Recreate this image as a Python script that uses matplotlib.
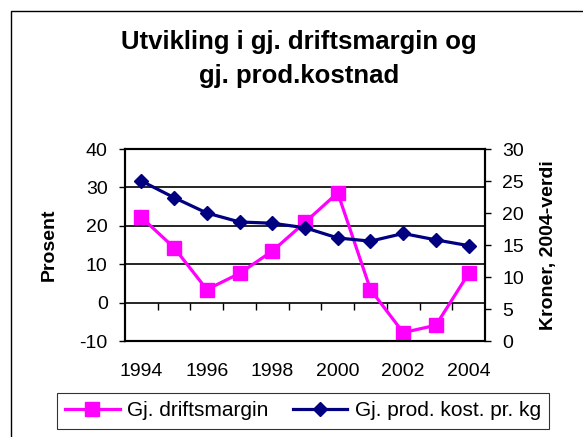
import matplotlib
matplotlib.use("Agg")
import matplotlib.pyplot as plt
from matplotlib.patches import Rectangle
import numpy as np

plt.rcParams['font.family'] = ['Liberation Sans', 'DejaVu Sans']
plt.rcParams['axes.unicode_minus'] = False

years = [1994, 1995, 1996, 1997, 1998, 1999, 2000, 2001, 2002, 2003, 2004]
driftsmargin = [22.2, 14.3, 3.4, 7.6, 13.4, 20.9, 28.6, 3.4, -7.8, -5.9, 7.6]
prodkost = [25.0, 22.4, 20.0, 18.6, 18.4, 17.7, 16.1, 15.6, 16.8, 15.8, 14.9]
left_ticks = [-10, 0, 10, 20, 30, 40]
right_ticks = [0, 5, 10, 15, 20, 25, 30]
year_labels = ['1994', '1996', '1998', '2000', '2002', '2004']

FS = 14
W, H = 583, 437
fig = plt.figure(figsize=(W / 100, H / 100), dpi=100)

# outer chart border
fig.patches.append(Rectangle((11 / W, -0.05), 1.2, (H - 11) / H + 0.05,
                             transform=fig.transFigure, fill=False,
                             edgecolor='black', linewidth=1.0))

L, R, T, B = 125, 485, 149, 341
ax = fig.add_axes([L / W, 1 - B / H, (R - L) / W, (B - T) / H])
x = np.arange(len(years))

ax.set_xlim(-0.5, len(years) - 0.5)
ax.set_ylim(-10, 40)
ax.set_yticks(left_ticks)
ax.tick_params(axis='y', direction='out', length=4.5, width=1, pad=8, labelsize=FS)
for v in [10, 20, 30]:
    ax.axhline(v, color='black', linewidth=1.2, zorder=1)
for s in ax.spines.values():
    s.set_linewidth(1.5)

# x tick labels at bottom
ax.set_xticks(x[::2])
ax.set_xticklabels(year_labels)
ax.tick_params(axis='x', length=0, pad=16, labelsize=FS)

# x axis line at y=0 with category-boundary ticks
sec = ax.secondary_xaxis(0.2)
sec.set_xticks(np.arange(0.5, len(years) - 1, 1.0))
sec.set_xticklabels([])
sec.tick_params(axis='x', direction='out', length=5, width=1)
sec.spines['bottom'].set_linewidth(1.2)

ax.set_ylabel('Prosent', fontsize=FS, fontweight='bold')
ax.yaxis.set_label_coords(-0.186, 0.5)

ax2 = ax.twinx()
ax2.set_ylim(0, 30)
ax2.set_yticks(right_ticks)
ax2.tick_params(axis='y', direction='out', length=4.5, width=1, pad=8, labelsize=FS)
ax2.set_ylabel('Kroner, 2004-verdi', fontsize=FS, fontweight='bold')
ax2.yaxis.set_label_coords(1.153, 0.5)
for s in ax2.spines.values():
    s.set_linewidth(1.5)

l1, = ax.plot(x, driftsmargin, color='#FF00FF', linewidth=2.3, marker='s',
              markersize=9.5, markerfacecolor='#FF00FF', markeredgecolor='#FF00FF',
              zorder=3, label='Gj. driftsmargin')
l2, = ax2.plot(x, prodkost, color='#000080', linewidth=2.3, marker='D',
               markersize=7.5, markerfacecolor='#000080', markeredgecolor='#000080',
               zorder=3, label='Gj. prod. kost. pr. kg')

fig.text(299 / W, 1 - 30 / H, 'Utvikling i gj. driftsmargin og\ngj. prod.kostnad',
         ha='center', va='top', fontsize=18.5, fontweight='bold', linespacing=1.5)

leg = fig.legend([l1, l2], ['Gj. driftsmargin', 'Gj. prod. kost. pr. kg'],
                 loc='upper left', bbox_to_anchor=(57 / W, 1 - 393 / H),
                 ncol=2, fontsize=15, frameon=True, fancybox=False,
                 edgecolor='black', borderpad=0.4, handlelength=2.6,
                 columnspacing=1.2, handletextpad=0.35, borderaxespad=0)
leg.get_frame().set_linewidth(0.8)

fig.savefig('out.png', dpi=100)
